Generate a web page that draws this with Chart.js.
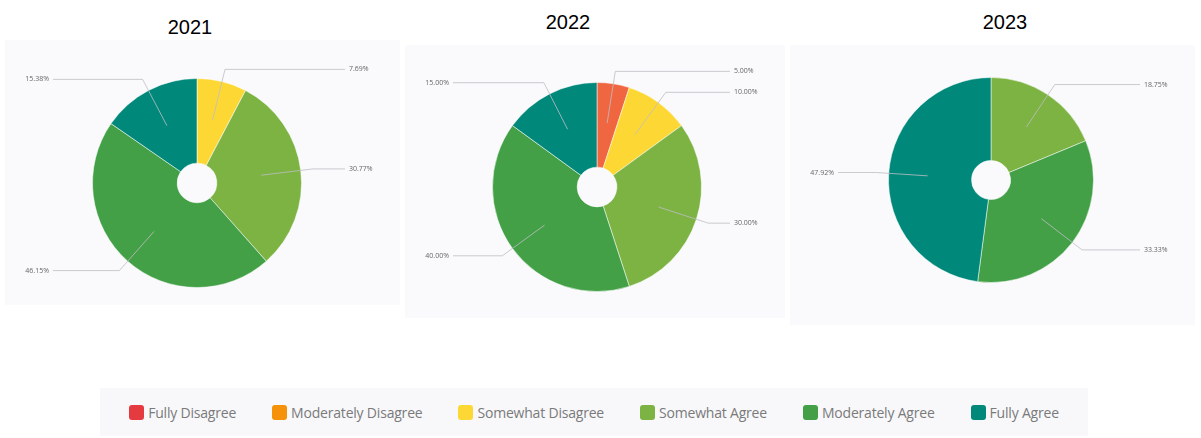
<!DOCTYPE html>
<html>
<head>
<meta charset="utf-8">
<script src="https://cdn.jsdelivr.net/npm/chart.js@4"></script>
<style>
  body { margin: 0; width: 1201px; height: 438px; background: #fff; position: relative; overflow: hidden; font-family: "Liberation Sans", Arial, sans-serif; }
  .panel { position: absolute; background: #fafafd; }
  .title { position: absolute; font-size: 20px; color: #000; transform: translate(-50%, -50%); }
  #legend { position: absolute; left: 100px; top: 388px; width: 988px; height: 48px; background: #f8f8fa;
            display: flex; align-items: center; justify-content: center; gap: 36px;
            font-family: "Open Sans", sans-serif; font-size: 14px; color: #7a7a7a; letter-spacing: -0.2px; }
  .item { display: flex; align-items: center; }
  .box { width: 15px; height: 15px; border-radius: 3px; margin-right: 4px; }
</style>
</head>
<body>
<div class="title" style="left:190px;top:27px">2021</div>
<div class="title" style="left:568px;top:22px">2022</div>
<div class="title" style="left:1005px;top:22px">2023</div>

<div class="panel" style="left:5px;top:40px;width:395px;height:265px"><canvas id="pie2021"></canvas></div>
<div class="panel" style="left:405px;top:45px;width:380px;height:273px"><canvas id="pie2022"></canvas></div>
<div class="panel" style="left:790px;top:45px;width:405px;height:280px"><canvas id="pie2023"></canvas></div>

<div id="legend"></div>

<script>
const categories = ['Fully Disagree', 'Moderately Disagree', 'Somewhat Disagree', 'Somewhat Agree', 'Moderately Agree', 'Fully Agree'];
const legendColors = ['#e53a3f', '#f5920a', '#fdd835', '#7cb342', '#43a047', '#00897b'];
const pieColors = ['#ef6640', '#f5920a', '#fdd835', '#7cb342', '#43a047', '#00897b'];

// percentage of answers per year
const values2021 = [0, 0, 7.69, 30.77, 46.15, 15.38];
const values2022 = [5.00, 0, 10.00, 30.00, 40.00, 15.00];
const values2023 = [0, 0, 0, 18.75, 33.33, 47.92];

// leader lines + value labels
const leaderLabels = {
  id: 'leaderLabels',
  afterDatasetsDraw(chart) {
    const ctx = chart.ctx;
    const meta = chart.getDatasetMeta(0);
    const data = chart.data.datasets[0].data;
    const w = chart.width;
    ctx.save();
    meta.data.forEach((arc, i) => {
      if (!data[i]) return;
      const mid = (arc.startAngle + arc.endAngle) / 2;
      const r = arc.outerRadius;
      const x0 = arc.x + Math.cos(mid) * r * 0.62;
      const y0 = arc.y + Math.sin(mid) * r * 0.62;
      const x1 = arc.x + Math.cos(mid) * r * 1.12;
      const y1 = arc.y + Math.sin(mid) * r * 1.12;
      const right = Math.cos(mid) >= 0;
      const x2 = right ? w - 55 : 48;
      ctx.strokeStyle = 'rgba(190,190,195,0.8)';
      ctx.lineWidth = 1;
      ctx.beginPath();
      ctx.moveTo(x0, y0);
      ctx.lineTo(x1, y1);
      ctx.lineTo(x2, y1);
      ctx.stroke();
      ctx.fillStyle = '#666';
      ctx.font = '7px "Open Sans", sans-serif';
      ctx.textBaseline = 'middle';
      ctx.textAlign = right ? 'left' : 'right';
      ctx.fillText(data[i].toFixed(2) + '%', right ? x2 + 4 : x2 - 4, y1);
    });
    ctx.restore();
  }
};

function makePie(id, values, w, h, padding) {
  const canvas = document.getElementById(id);
  canvas.width = w;
  canvas.height = h;
  canvas.style.width = w + 'px';
  canvas.style.height = h + 'px';
  return new Chart(canvas.getContext('2d'), {
    type: 'doughnut',
    data: {
      labels: categories,
      datasets: [{
        data: values,
        backgroundColor: pieColors,
        borderColor: 'rgba(255,255,255,0.5)',
        borderWidth: 1
      }]
    },
    options: {
      responsive: false,
      animation: false,
      cutout: '19%',
      layout: { padding: padding },
      plugins: {
        legend: { display: false },
        tooltip: { enabled: false }
      }
    },
    plugins: [leaderLabels]
  });
}

makePie('pie2021', values2021, 395, 265, { left: 87, right: 98, top: 38, bottom: 17 });
makePie('pie2022', values2022, 380, 273, { left: 87, right: 83, top: 37, bottom: 26 });
makePie('pie2023', values2023, 405, 280, { left: 98, right: 101, top: 32, bottom: 42 });

// shared legend
const legend = document.getElementById('legend');
categories.forEach((name, i) => {
  const item = document.createElement('div');
  item.className = 'item';
  item.innerHTML = '<span class="box" style="background:' + legendColors[i] + '"></span>' + name;
  legend.appendChild(item);
});
</script>
</body>
</html>
